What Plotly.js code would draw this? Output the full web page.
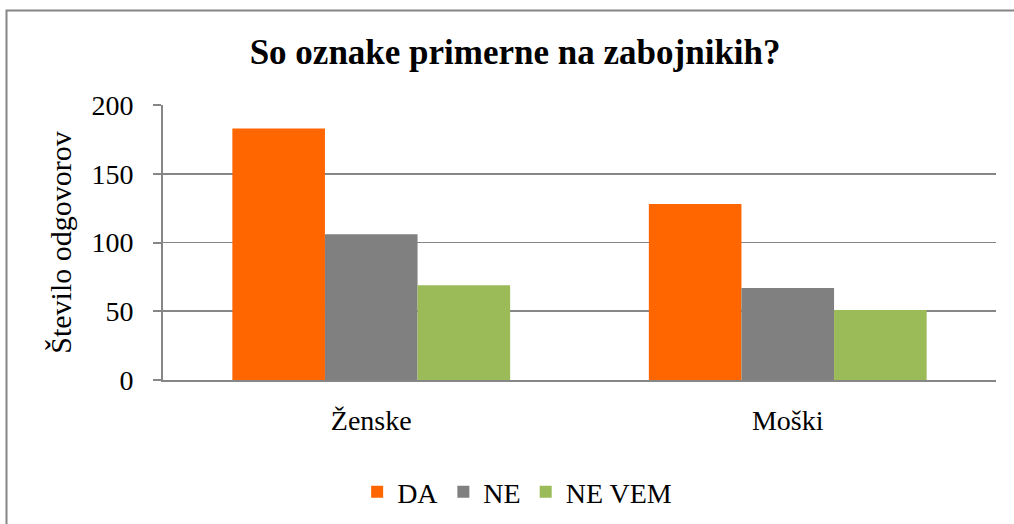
<!DOCTYPE html>
<html>
<head>
<meta charset="utf-8">
<script src="https://cdn.plot.ly/plotly-3.0.1.min.js"></script>
<style>
  html, body { margin: 0; padding: 0; background: #ffffff; }
  #chart { width: 1014px; height: 524px; }
</style>
</head>
<body>
<div id="chart"></div>
<script>
const categories = ["Ženske", "Moški"];
const seriesNames = ["DA", "NE", "NE VEM"];
const valuesDA = [183, 128];
const valuesNE = [106, 67];
const valuesNEVEM = [69, 51];
const seriesColors = ["#FF6600", "#808080", "#9BBB59"];
const yTicks = [0, 50, 100, 150, 200];

const FONT = 'Liberation Serif, Times New Roman, serif';
const seriesValues = [valuesDA, valuesNE, valuesNEVEM];

const traces = seriesNames.map((name, i) => ({
  type: 'bar',
  name: name,
  x: categories,
  y: seriesValues[i],
  marker: { color: seriesColors[i], line: { width: 0 } },
  hoverinfo: 'x+y+name'
}));

const layout = {
  width: 1014,
  height: 524,
  paper_bgcolor: '#ffffff',
  plot_bgcolor: '#ffffff',
  font: { family: FONT, size: 28, color: '#000000' },
  margin: { l: 163, r: 18, t: 105, b: 144 },
  barmode: 'group',
  bargap: 0.333,
  bargroupgap: 0,
  title: {
    text: 'So oznake primerne na zabojnikih?',
    font: { family: FONT, size: 35, color: '#000000', weight: 'bold' },
    x: 0.508, xref: 'container', xanchor: 'center',
    y: 1 - 52 / 524, yref: 'container', yanchor: 'middle'
  },
  xaxis: {
    type: 'category',
    showgrid: false,
    zeroline: false,
    showline: true,
    linecolor: '#868686',
    linewidth: 2,
    ticks: '',
    tickfont: { family: FONT, size: 28, color: '#000000' },
    ticklabelstandoff: 14
  },
  yaxis: {
    range: [0, 200],
    tickvals: yTicks,
    ticktext: yTicks.map(String),
    showgrid: true,
    gridcolor: '#868686',
    gridwidth: 1.75,
    zeroline: false,
    showline: true,
    linecolor: '#868686',
    linewidth: 2,
    ticks: 'outside',
    ticklen: 8,
    tickwidth: 2,
    tickcolor: '#868686',
    ticklabelstandoff: 14,
    tickfont: { family: FONT, size: 28, color: '#000000' },
    title: {
      text: 'Število odgovorov',
      font: { family: FONT, size: 30, color: '#000000' },
      standoff: 11
    }
  },
  showlegend: true,
  legend: {
    orientation: 'h',
    xref: 'container', x: 0.51, xanchor: 'center',
    yref: 'container', y: 1 - 492 / 524, yanchor: 'middle',
    font: { family: FONT, size: 28, color: '#000000' },
    bgcolor: 'rgba(0,0,0,0)',
    itemwidth: 30,
    traceorder: 'normal'
  },
  shapes: [{
    type: 'rect',
    xref: 'paper', yref: 'paper',
    x0: (6.5 - 163) / 833, x1: (1030 - 163) / 833,
    y0: (380 - 560) / 275, y1: (380 - 10.5) / 275,
    line: { color: '#868686', width: 2 },
    fillcolor: 'rgba(0,0,0,0)',
    layer: 'below'
  }]
};

Plotly.newPlot('chart', traces, layout, { displayModeBar: false, staticPlot: true });
</script>
</body>
</html>
